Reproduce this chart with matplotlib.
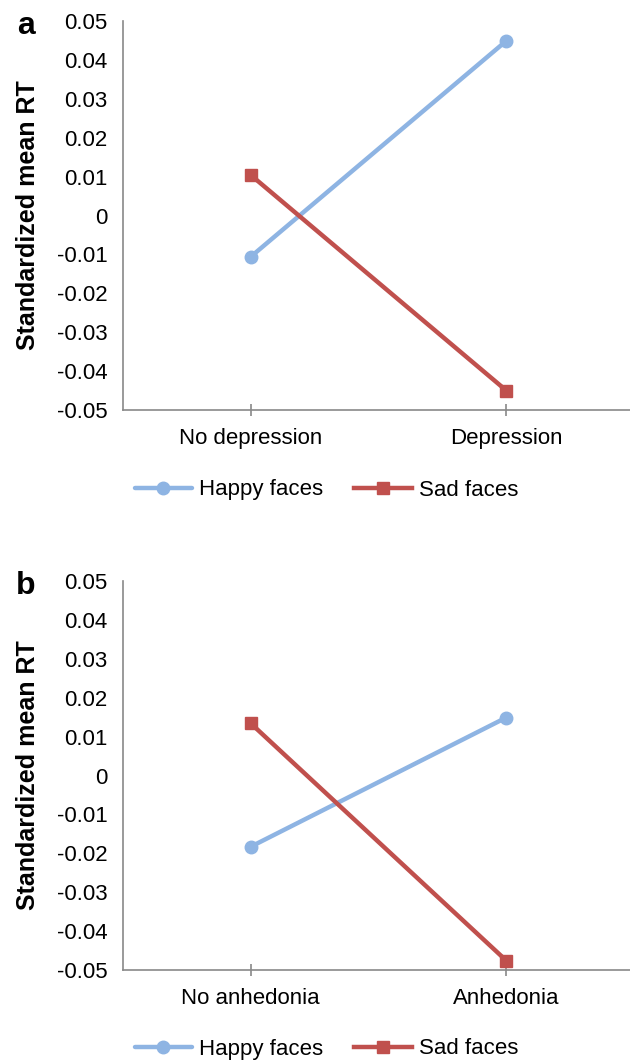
import matplotlib
matplotlib.use("Agg")
import matplotlib.pyplot as plt

plt.rcParams['font.family'] = ['Liberation Sans', 'DejaVu Sans']

# --- data ---
groups_a = ["No depression", "Depression"]
groups_b = ["No anhedonia", "Anhedonia"]
happy_a = [-0.0106, 0.0449]
sad_a = [0.0104, -0.0450]
happy_b = [-0.0183, 0.0149]
sad_b = [0.0134, -0.0476]
yticks = [-0.05, -0.04, -0.03, -0.02, -0.01, 0, 0.01, 0.02, 0.03, 0.04, 0.05]
ytick_labels = ["-0.05", "-0.04", "-0.03", "-0.02", "-0.01", "0",
                "0.01", "0.02", "0.03", "0.04", "0.05"]

blue = "#8EB4E3"
red = "#C0504D"
grey = "#898989"

W, H = 630, 1063
fig = plt.figure(figsize=(W / 100, H / 100), dpi=100)


def panel(bottom_px, top_px, groups, happy, sad, letter, legend_y):
    ax = fig.add_axes([123 / W, 1 - bottom_px / H, 1 - 123 / W, (bottom_px - top_px) / H])
    x = range(len(groups))
    ax.plot(x, happy, color=blue, lw=3.2, marker="o", ms=9, label="Happy faces",
            solid_capstyle="round", clip_on=False)
    ax.plot(x, sad, color=red, lw=3.2, marker="s", ms=8.5, label="Sad faces",
            clip_on=False)
    ax.set_xlim(-0.5, 1.484)
    ax.set_ylim(-0.05, 0.05)
    ax.set_yticks(yticks)
    ax.set_yticklabels(ytick_labels)
    ax.set_xticks(list(x))
    ax.set_xticklabels(groups)
    for s in ["top", "right"]:
        ax.spines[s].set_visible(False)
    for s in ["left", "bottom"]:
        ax.spines[s].set_color(grey)
        ax.spines[s].set_linewidth(1.2)
    ax.tick_params(axis="y", length=0, pad=11, labelsize=16)
    ax.tick_params(axis="x", direction="inout", length=8, width=1.2,
                   color=grey, pad=9, labelsize=16)
    ax.set_ylabel("Standardized mean RT", fontsize=18, fontweight="bold", labelpad=12)
    fig.text(26 / W, 1 - (top_px + 5) / H, letter, fontsize=23, fontweight="bold",
             ha="center", va="center")
    fig.legend(handles=ax.get_lines(), loc="center", bbox_to_anchor=(0.518, legend_y),
               ncol=2, frameon=False, fontsize=16, handlelength=2.6,
               handletextpad=0.3, columnspacing=1.4)
    return ax


panel(410, 21, groups_a, happy_a, sad_a, "a", 1 - 490 / H)
panel(970, 581, groups_b, happy_b, sad_b, "b", 1 - 1049 / H)

fig.savefig("out.png", dpi=100)
